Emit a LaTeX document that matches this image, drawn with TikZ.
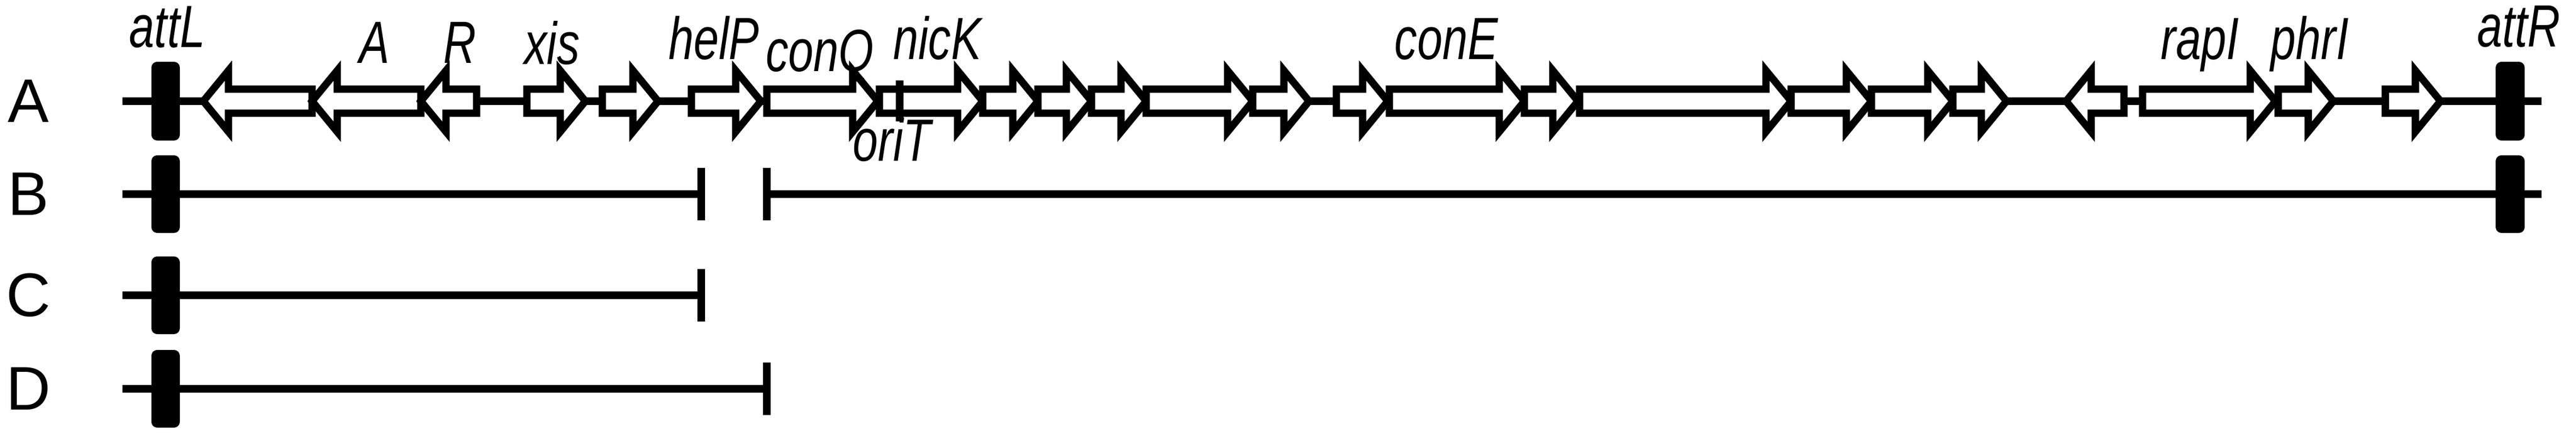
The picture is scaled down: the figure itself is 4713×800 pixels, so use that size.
\documentclass[tikz,border=0pt]{standalone}
\usepackage{fontspec}
\setmainfont{Liberation Sans}
\newfontfamily\genefont[FakeStretch=0.76]{Liberation Sans}
\newcommand\gR[3]{% x0 x1 y : right pointing
  \filldraw[gene] (#1,#3-22) -- (#2-46,#3-22) -- (#2-46,#3-56) -- (#2,#3) -- (#2-46,#3+56) -- (#2-46,#3+22) -- (#1,#3+22) -- cycle;}
\newcommand\gL[3]{% x0(tip) x1 y : left pointing
  \filldraw[gene] (#2,#3-22) -- (#1+46,#3-22) -- (#1+46,#3-56) -- (#1,#3) -- (#1+46,#3+56) -- (#1+46,#3+22) -- (#2,#3+22) -- cycle;}
\begin{document}
\begin{tikzpicture}[x=0.01cm,y=-0.01cm,
  gene/.style={fill=white,draw=black,line width=3.8pt,line join=miter},
  bb/.style={line width=3.8pt},
  att/.style={fill=black,rounded corners=3pt},
  rowlab/.style={font=\fontsize{32}{36}\selectfont,anchor=center},
  glab/.style={font=\genefont\fontsize{31}{33}\selectfont\itshape,anchor=base}]
\useasboundingbox (0,0) rectangle (4713,800);
% row labels
\node[rowlab] (la) at (52,185) {A};
\node[rowlab] (lb) at (52,355) {B};
\node[rowlab] (lc) at (52,540) {C};
\node[rowlab] (ld) at (52,711) {D};
% Row A
\coordinate (a0) at (224,185); \coordinate (a1) at (4650,185);
\draw[bb] (a0) -- (a1);
\gL{372}{571}{185}
\gL{571}{770}{185}
\gL{770}{872}{185}
\gR{964}{1071}{185}
\gR{1102}{1204}{185}
\gR{1265}{1392}{185}
\gR{1403}{1606}{185}
\gR{1609}{1798}{185}
\gR{1798}{1899}{185}
\gR{1899}{1997}{185}
\gR{1997}{2097}{185}
\gR{2097}{2292}{185}
\gR{2292}{2395}{185}
\gR{2445}{2539}{185}
\gR{2542}{2789}{185}
\gR{2789}{2887}{185}
\gR{2890}{3277}{185}
\gR{3277}{3424}{185}
\gR{3424}{3573}{185}
\gR{3573}{3671}{185}
\gL{3780}{3886}{185}
\gR{3920}{4163}{185}
\gR{4168}{4269}{185}
\gR{4364}{4465}{185}
\draw[bb] (1646,147) -- (1646,222);
\fill[att] (277,113) rectangle (329,257);
\fill[att] (4566,113) rectangle (4619,257);
% labels row A
\node[glab] (tattl) at (306,87) {attL};
\node[glab] (tA) at (685,115) {A};
\node[glab] (tR) at (841,115) {R};
\node[glab] (txis) at (1010,117) {xis};
\node[glab] (thelp) at (1306,108) {helP};
\node[glab] (tconq) at (1500,130) {conQ};
\node[glab] (tnick) at (1715,108) {nicK};
\node[glab] (torit) at (1632,294) {oriT};
\node[glab] (tcone) at (2646,108) {conE};
\node[glab] (trapi) at (4025,108) {rapI};
\node[glab] (tphri) at (4226,108) {phrI};
\node[glab] (tattr) at (4608,85) {attR};
% Row B
\coordinate (b0) at (224,355); \coordinate (b1) at (1283,355);
\coordinate (b2) at (1403,355); \coordinate (b3) at (4650,355);
\draw[bb] (b0) -- (b1); \draw[bb] (b1)+(0,-48) -- +(0,48);
\draw[bb] (b2) -- (b3); \draw[bb] (b2)+(0,-48) -- +(0,48);
\fill[att] (277,284) rectangle (329,426);
\fill[att] (4566,284) rectangle (4619,426);
% Row C
\coordinate (c0) at (224,540); \coordinate (c1) at (1283,540);
\draw[bb] (c0) -- (c1); \draw[bb] (c1)+(0,-48) -- +(0,48);
\fill[att] (277,469) rectangle (329,611);
% Row D
\coordinate (d0) at (224,711); \coordinate (d1) at (1403,711);
\draw[bb] (d0) -- (d1); \draw[bb] (d1)+(0,-48) -- +(0,48);
\fill[att] (277,640) rectangle (329,782);
\end{tikzpicture}
\end{document}
